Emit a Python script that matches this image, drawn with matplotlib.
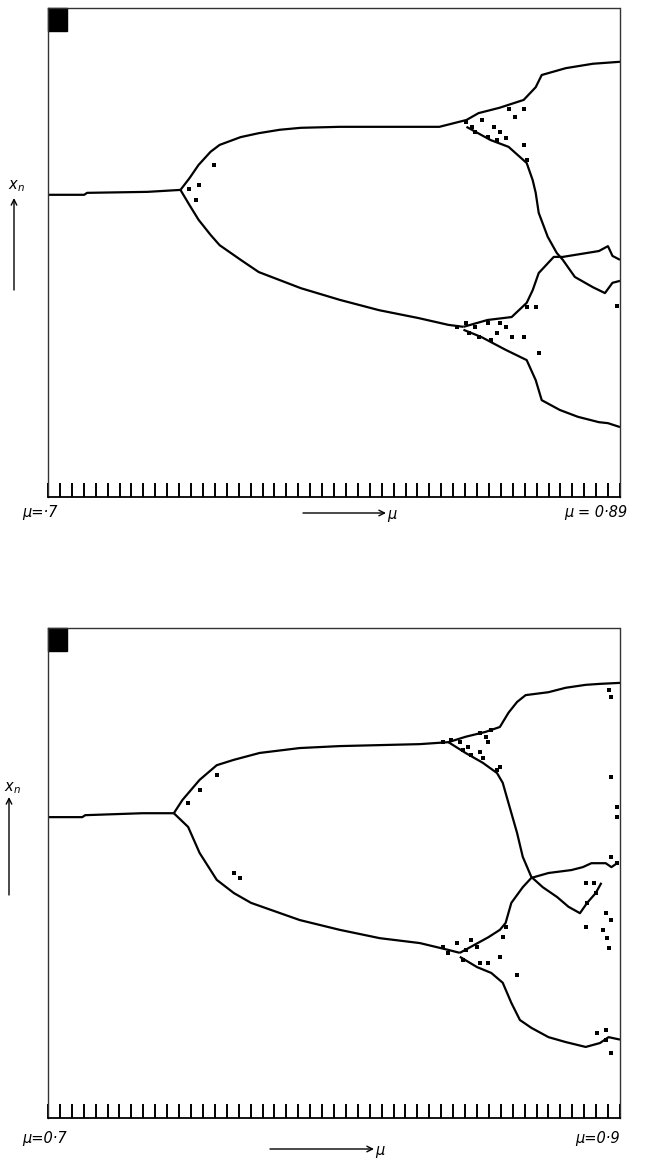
import numpy as np
import matplotlib
matplotlib.use("Agg")
import matplotlib.pyplot as plt
from matplotlib.patches import Rectangle

# ---- top panel (mu 0.70 .. 0.89), x_n in arbitrary units 0..1 ----
top_stem_mu = [0.700, 0.712, 0.713, 0.733, 0.744]
top_stem_x = [0.618, 0.618, 0.622, 0.624, 0.628]

top_hi_mu = [0.744, 0.747, 0.750, 0.754, 0.757, 0.764, 0.770, 0.777, 0.784, 0.797,
             0.810, 0.823, 0.830, 0.839, 0.843, 0.850, 0.858, 0.862, 0.864, 0.872,
             0.881, 0.890]
top_hi_x = [0.628, 0.652, 0.679, 0.706, 0.720, 0.736, 0.744, 0.751, 0.755, 0.757,
            0.757, 0.757, 0.757, 0.771, 0.785, 0.796, 0.812, 0.838, 0.863, 0.877,
            0.886, 0.890]

top_hi_lo_mu = [0.839, 0.847, 0.853, 0.859, 0.861, 0.862, 0.863, 0.866, 0.869, 0.871,
                0.875, 0.881, 0.885, 0.8875, 0.890]
top_hi_lo_x = [0.757, 0.730, 0.716, 0.683, 0.648, 0.622, 0.581, 0.532, 0.499, 0.485,
               0.450, 0.429, 0.417, 0.438, 0.442]

top_lo_mu = [0.744, 0.747, 0.750, 0.754, 0.757, 0.764, 0.770, 0.784, 0.797, 0.810,
             0.823, 0.833, 0.838]
top_lo_x = [0.628, 0.597, 0.567, 0.536, 0.515, 0.485, 0.460, 0.427, 0.403, 0.382,
            0.366, 0.352, 0.348]

top_lo_hi_mu = [0.838, 0.846, 0.854, 0.859, 0.861, 0.863, 0.868, 0.871, 0.877, 0.883,
                0.886, 0.8875, 0.890]
top_lo_hi_x = [0.348, 0.362, 0.368, 0.397, 0.423, 0.458, 0.491, 0.491, 0.497, 0.503,
               0.513, 0.493, 0.485]

top_lo_lo_mu = [0.838, 0.844, 0.852, 0.859, 0.862, 0.864, 0.870, 0.876, 0.883, 0.886,
                0.890]
top_lo_lo_x = [0.342, 0.327, 0.301, 0.280, 0.239, 0.198, 0.178, 0.164, 0.153, 0.151,
               0.143]

top_dots_mu = [0.747, 0.750, 0.755, 0.749,
               0.839, 0.841, 0.842, 0.844, 0.846, 0.848, 0.849, 0.850, 0.852, 0.853,
               0.855, 0.858, 0.858, 0.859,
               0.836, 0.839, 0.840, 0.842, 0.843, 0.846, 0.847, 0.849, 0.850, 0.852,
               0.854, 0.858, 0.859, 0.863, 0.862, 0.889]
top_dots_x = [0.630, 0.638, 0.679, 0.607,
              0.767, 0.757, 0.746, 0.771, 0.736, 0.757, 0.730, 0.746, 0.734, 0.794,
              0.777, 0.794, 0.720, 0.689,
              0.348, 0.356, 0.335, 0.348, 0.327, 0.356, 0.321, 0.335, 0.356, 0.348,
              0.327, 0.327, 0.389, 0.295, 0.389, 0.390]

# ---- bottom panel (mu 0.70 .. 0.90) ----
bot_stem_mu = [0.700, 0.712, 0.713, 0.733, 0.744]
bot_stem_x = [0.614, 0.614, 0.618, 0.622, 0.622]

bot_hi_mu = [0.744, 0.747, 0.753, 0.759, 0.765, 0.774, 0.788, 0.802, 0.816, 0.830,
             0.840, 0.846, 0.853, 0.858, 0.861, 0.864, 0.867, 0.875, 0.881, 0.888,
             0.893, 0.900]
bot_hi_x = [0.622, 0.649, 0.690, 0.720, 0.731, 0.745, 0.755, 0.759, 0.761, 0.763,
            0.767, 0.778, 0.788, 0.798, 0.827, 0.849, 0.863, 0.869, 0.878, 0.884,
            0.886, 0.888]

bot_hi_lo_mu = [0.840, 0.846, 0.852, 0.857, 0.859, 0.861, 0.864, 0.866, 0.869, 0.873,
                0.878, 0.882, 0.886, 0.8885, 0.8915, 0.8935]
bot_hi_lo_x = [0.767, 0.745, 0.725, 0.704, 0.684, 0.643, 0.582, 0.533, 0.492, 0.471,
               0.451, 0.431, 0.418, 0.439, 0.459, 0.480]

bot_lo_mu = [0.744, 0.749, 0.753, 0.759, 0.765, 0.771, 0.788, 0.802, 0.816, 0.830,
             0.840, 0.844]
bot_lo_x = [0.622, 0.594, 0.541, 0.486, 0.459, 0.439, 0.404, 0.384, 0.367, 0.357,
            0.343, 0.337]

bot_lo_hi_mu = [0.844, 0.854, 0.858, 0.860, 0.862, 0.866, 0.869, 0.875, 0.883, 0.887,
                0.890, 0.895, 0.897, 0.899]
bot_lo_hi_x = [0.337, 0.369, 0.384, 0.398, 0.439, 0.471, 0.490, 0.500, 0.506, 0.512,
               0.520, 0.520, 0.512, 0.520]

bot_lo_lo_mu = [0.844, 0.850, 0.855, 0.859, 0.862, 0.865, 0.869, 0.875, 0.881, 0.888,
                0.893, 0.896, 0.900]
bot_lo_lo_x = [0.329, 0.308, 0.296, 0.276, 0.235, 0.200, 0.184, 0.165, 0.155, 0.145,
               0.153, 0.165, 0.160]

bot_dots_mu = [0.749, 0.753, 0.759, 0.765, 0.767,
               0.838, 0.841, 0.844, 0.845, 0.847, 0.848, 0.851, 0.852, 0.853, 0.854,
               0.858, 0.857, 0.855, 0.851,
               0.838, 0.840, 0.843, 0.845, 0.846, 0.848, 0.850, 0.851, 0.854, 0.858,
               0.859, 0.864, 0.860,
               0.897, 0.899, 0.899, 0.896, 0.897,
               0.897, 0.899, 0.8885, 0.8915, 0.888, 0.891, 0.888, 0.894, 0.8955,
               0.896, 0.897, 0.895,
               0.892, 0.895, 0.897, 0.895]
bot_dots_x = [0.643, 0.669, 0.700, 0.500, 0.490,
              0.767, 0.771, 0.767, 0.751, 0.757, 0.741, 0.747, 0.735, 0.778, 0.767,
              0.716, 0.710, 0.792, 0.786,
              0.349, 0.337, 0.357, 0.322, 0.343, 0.363, 0.349, 0.316, 0.316, 0.329,
              0.369, 0.292, 0.390,
              0.696, 0.635, 0.614, 0.874, 0.859,
              0.533, 0.520, 0.439, 0.459, 0.480, 0.480, 0.390, 0.384, 0.367,
              0.347, 0.404, 0.418,
              0.174, 0.159, 0.133, 0.180]

tick_count = 49


def draw_panel(ax, mu_max, branches, dots_mu, dots_x):
    for mu, xv in branches:
        ax.plot(mu, xv, color="black", lw=1.6, solid_capstyle="butt")
    ax.scatter(dots_mu, dots_x, s=5, marker="s", color="black", linewidths=0)
    ax.set_xlim(0.70, mu_max)
    ax.set_ylim(0, 1)
    for side in ["left", "top", "right"]:
        ax.spines[side].set_linestyle((0, (1, 1)))
        ax.spines[side].set_color("0.2")
        ax.spines[side].set_linewidth(1.0)
    ax.spines["bottom"].set_linewidth(1.3)
    ax.set_xticks(np.linspace(0.70, mu_max, tick_count))
    ax.set_xticklabels([])
    ax.tick_params(axis="x", direction="in", length=10, width=1.4, color="black")
    ax.set_yticks([])
    ax.add_patch(Rectangle((0, 1), 0.033, -0.047, transform=ax.transAxes,
                           color="black", clip_on=False))


fig = plt.figure(figsize=(6.70, 11.61), dpi=100)
W, H = 670.0, 1161.0

ax1 = fig.add_axes([48 / W, 1 - 497 / H, 572 / W, 489 / H])
draw_panel(ax1, 0.89,
           [(top_stem_mu, top_stem_x), (top_hi_mu, top_hi_x),
            (top_hi_lo_mu, top_hi_lo_x), (top_lo_mu, top_lo_x),
            (top_lo_hi_mu, top_lo_hi_x), (top_lo_lo_mu, top_lo_lo_x)],
           top_dots_mu, top_dots_x)

ax2 = fig.add_axes([48 / W, 1 - 1118 / H, 572 / W, 490 / H])
draw_panel(ax2, 0.90,
           [(bot_stem_mu, bot_stem_x), (bot_hi_mu, bot_hi_x),
            (bot_hi_lo_mu, bot_hi_lo_x), (bot_lo_mu, bot_lo_x),
            (bot_lo_hi_mu, bot_lo_hi_x), (bot_lo_lo_mu, bot_lo_lo_x)],
           bot_dots_mu, bot_dots_x)


def fx(px):
    return px / W


def fy(py):
    return 1 - py / H


def arrow(x0, y0, x1, y1):
    ax1.annotate("", xy=(fx(x1), fy(y1)), xytext=(fx(x0), fy(y0)),
                 xycoords="figure fraction", textcoords="figure fraction",
                 annotation_clip=False,
                 arrowprops=dict(arrowstyle="->", lw=1.0, color="black",
                                 shrinkA=0, shrinkB=0))


txt = dict(fontsize=10.5, style="italic", color="black")

# y-axis labels with arrows
fig.text(fx(16), fy(186), "x$_n$", ha="center", va="center", **txt)
arrow(14, 290, 14, 198)
fig.text(fx(12), fy(788), "x$_n$", ha="center", va="center", **txt)
arrow(9, 895, 9, 797)

# x-axis labels
fig.text(fx(22), fy(513), "μ=·7", ha="left", va="center", **txt)
fig.text(fx(627), fy(513), "μ = 0·89", ha="right", va="center", **txt)
arrow(303, 513, 386, 513)
fig.text(fx(387), fy(515), "μ", ha="left", va="center", **txt)

fig.text(fx(22), fy(1138), "μ=0·7", ha="left", va="center", **txt)
fig.text(fx(620), fy(1138), "μ=0·9", ha="right", va="center", **txt)
arrow(270, 1149, 374, 1149)
fig.text(fx(375), fy(1151), "μ", ha="left", va="center", **txt)

fig.savefig("out.png", dpi=100)
